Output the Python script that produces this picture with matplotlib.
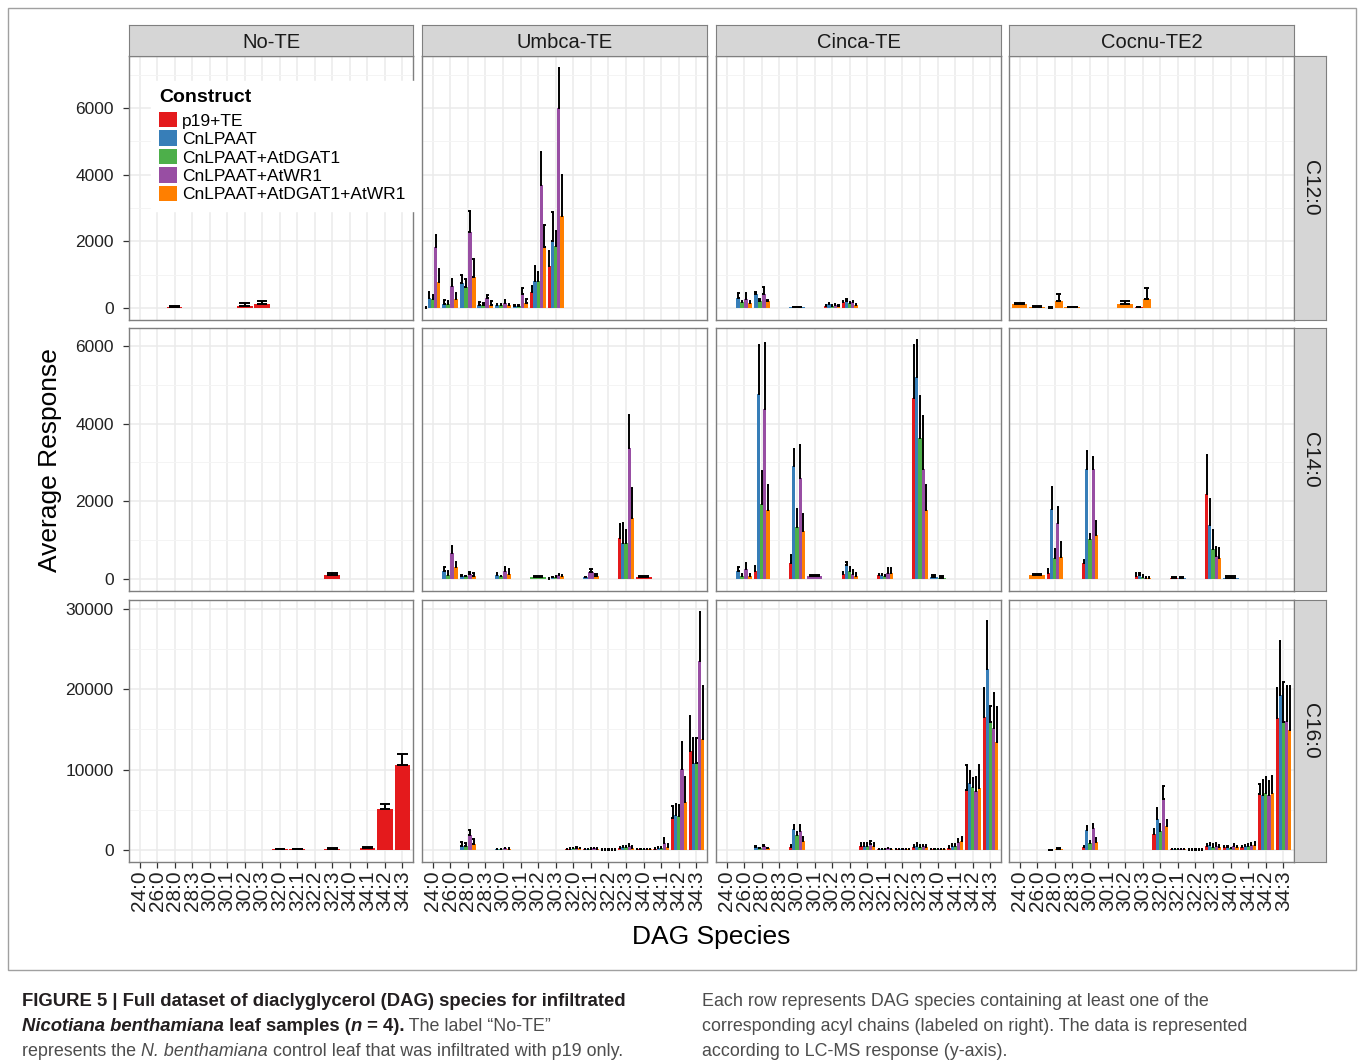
import numpy as np
import matplotlib
matplotlib.use('Agg')
import matplotlib.pyplot as plt
from matplotlib.patches import Patch, Rectangle

plt.rcParams['font.family'] = ['Liberation Sans', 'DejaVu Sans']

species = ['24:0', '26:0', '28:0', '28:3', '30:0', '30:1', '30:2', '30:3',
           '32:0', '32:1', '32:2', '32:3', '34:0', '34:1', '34:2', '34:3']
constructs = ['p19+TE', 'CnLPAAT', 'CnLPAAT+AtDGAT1', 'CnLPAAT+AtWR1',
              'CnLPAAT+AtDGAT1+AtWR1']
colors = ['#E41A1C', '#377EB8', '#4DAF4A', '#984EA3', '#FF7F00']
te_lines = ['No-TE', 'Umbca-TE', 'Cinca-TE', 'Cocnu-TE2']
chains = ['C12:0', 'C14:0', 'C16:0']
row_ticks = [[0, 2000, 4000, 6000], [0, 2000, 4000, 6000], [0, 10000, 20000, 30000]]

_ = None
# (mean, se) per construct, None = construct not measured
note_c12 = {
    '28:0': [(20, 30), _, _, _, _],
    '30:2': [(70, 70), _, _, _, _],
    '30:3': [(120, 100), _, _, _, _],
}
umbca_c12 = {
    '24:0': [(10, 20), (290, 180), (270, 120), (1820, 380), (790, 370)],
    '26:0': [_, (130, 120), (110, 90), (670, 210), (260, 180)],
    '28:0': [_, (750, 240), (630, 250), (2280, 620), (920, 540)],
    '28:3': [_, (100, 70), (100, 60), (290, 110), (100, 110)],
    '30:0': [_, (80, 40), (80, 30), (160, 90), (80, 40)],
    '30:1': [_, (70, 20), (60, 20), (430, 170), (160, 100)],
    '30:2': [(470, 200), (820, 440), (820, 250), (3690, 990), (1840, 650)],
    '30:3': [(1270, 440), (2010, 880), (1870, 440), (6010, 1190), (2760, 1230)],
}
cinca_c12 = {
    '26:0': [_, (300, 150), (170, 50), (260, 200), (140, 60)],
    '28:0': [_, (420, 60), (220, 50), (420, 220), (200, 50)],
    '30:0': [_, (25, 15), _, _, _],
    '30:2': [(70, 30), (120, 30), (70, 30), (90, 30), (60, 20)],
    '30:3': [(170, 50), (220, 50), (140, 40), (170, 50), (90, 30)],
}
cocnu_c12 = {
    '24:0': [_, _, _, _, (120, 30)],
    '26:0': [_, _, _, _, (40, 20)],
    '28:0': [(10, 20), _, _, _, (220, 200)],
    '28:3': [_, _, _, _, (20, 15)],
    '30:2': [_, _, _, _, (120, 100)],
    '30:3': [(20, 20), _, _, _, (270, 320)],
}
note_c14 = {
    '32:3': [(100, 50), _, _, _, _],
}
umbca_c14 = {
    '26:0': [_, (195, 110), (110, 100), (680, 180), (300, 150)],
    '28:0': [_, (70, 40), (70, 20), (130, 50), (90, 60)],
    '30:0': [_, (110, 40), (70, 20), (210, 90), (130, 120)],
    '30:2': [_, _, (50, 25), _, _],
    '30:3': [(5, 10), (40, 20), (50, 20), (100, 30), (70, 30)],
    '32:1': [_, (40, 15), _, (170, 90), (85, 55)],
    '32:3': [(1050, 360), (930, 510), (930, 320), (3370, 840), (1580, 750)],
    '34:0': [(50, 25), _, _, _, _],
}
cinca_c14 = {
    '26:0': [_, (205, 110), (75, 60), (255, 155), (70, 65)],
    '28:0': [(205, 120), (4770, 1250), (1920, 860), (4380, 1690), (1770, 650)],
    '30:0': [(420, 190), (2910, 440), (1330, 470), (2590, 870), (1240, 440)],
    '30:1': [_, _, _, (70, 30), _],
    '30:3': [(135, 45), (360, 90), (215, 85), (135, 110), (75, 75)],
    '32:1': [(100, 30), (100, 35), (85, 20), (160, 120), (160, 120)],
    '32:3': [(4660, 1370), (5190, 960), (3640, 1080), (2840, 1360), (1770, 650)],
    '34:0': [_, (50, 45), (35, 35), _, _],
}
cocnu_c14 = {
    '26:0': [_, _, _, _, (100, 30)],
    '28:0': [(150, 120), (1800, 570), (530, 250), (1450, 410), (560, 385)],
    '30:0': [(410, 70), (2830, 460), (1020, 130), (2830, 300), (1140, 350)],
    '30:3': [(70, 75), (95, 65), (50, 50), (35, 30), (20, 20)],
    '32:1': [(25, 20), (25, 20), _, _, _],
    '32:3': [(2200, 990), (1400, 650), (760, 490), (580, 250), (540, 250)],
    '34:0': [_, (25, 45), _, _, _],
}
note_c16 = {
    '32:0': [(80, 80), _, _, _, _],
    '32:1': [(80, 80), _, _, _, _],
    '32:3': [(120, 130), _, _, _, _],
    '34:1': [(250, 160), _, _, _, _],
    '34:2': [(5100, 650), _, _, _, _],
    '34:3': [(10550, 1450), _, _, _, _],
}
umbca_c16 = {
    '28:0': [_, (530, 450), (450, 370), (1890, 650), (780, 650)],
    '30:0': [_, (100, 60), (80, 50), (200, 100), (180, 80)],
    '32:0': [(100, 80), (150, 100), (200, 100), (250, 100), (200, 100)],
    '32:1': [(120, 60), (120, 60), (150, 80), (200, 80), (150, 80)],
    '32:2': [(60, 30), (60, 30), (60, 30), (60, 30), (60, 30)],
    '32:3': [(250, 150), (330, 150), (330, 130), (570, 200), (290, 250)],
    '34:0': [(80, 40), (80, 40), (80, 40), (100, 40), (80, 40)],
    '34:1': [(160, 120), (250, 160), (290, 120), (900, 580), (410, 290)],
    '34:2': [(3980, 1510), (4300, 1400), (4180, 1400), (10090, 3360), (6030, 3030)],
    '34:3': [(12340, 4350), (10870, 3110), (10870, 3030), (23530, 6070), (13780, 6640)],
}
cinca_c16 = {
    '28:0': [_, (330, 160), (200, 60), (490, 160), (200, 80)],
    '30:0': [(370, 280), (2620, 540), (1890, 410), (2420, 740), (1150, 450)],
    '32:0': [(570, 330), (570, 370), (490, 370), (740, 450), (490, 370)],
    '32:1': [(100, 80), (130, 60), (100, 80), (200, 80), (130, 60)],
    '32:2': [(80, 40), (80, 40), (80, 40), (80, 40), (80, 40)],
    '32:3': [(410, 200), (570, 290), (410, 280), (450, 160), (330, 250)],
    '34:0': [(120, 50), (100, 50), (100, 40), (130, 50), (100, 40)],
    '34:1': [(250, 290), (450, 250), (450, 290), (1025, 410), (1150, 490)],
    '34:2': [(7460, 3160), (8360, 1480), (7870, 1030), (7300, 1800), (7750, 2870)],
    '34:3': [(16600, 3530), (22510, 5940), (15870, 2010), (15130, 4430), (13490, 4300)],
}
cocnu_c16 = {
    '28:0': [(30, 30), _, _, _, (150, 120)],
    '30:0': [(330, 240), (2460, 490), (820, 370), (2710, 570), (985, 535)],
    '32:0': [(1970, 650), (3900, 1270), (2420, 780), (6360, 1640), (3030, 700)],
    '32:1': [(80, 60), (80, 60), (80, 60), (100, 60), (80, 60)],
    '32:2': [(60, 40), (60, 40), (60, 40), (60, 40), (60, 40)],
    '32:3': [(490, 290), (650, 210), (410, 290), (570, 290), (330, 285)],
    '34:0': [(330, 240), (410, 160), (200, 120), (570, 210), (330, 200)],
    '34:1': [(410, 160), (490, 200), (530, 200), (615, 325), (615, 410)],
    '34:2': [(7010, 1150), (6810, 1920), (7130, 1930), (6850, 1680), (7130, 2090)],
    '34:3': [(16440, 3650), (19270, 6720), (15870, 5080), (15990, 4350), (14880, 5460)],
}

panels = [[note_c12, umbca_c12, cinca_c12, cocnu_c12],
          [note_c14, umbca_c14, cinca_c14, cocnu_c14],
          [note_c16, umbca_c16, cinca_c16, cocnu_c16]]

W, H = 1358, 1062
fig = plt.figure(figsize=(W / 100, H / 100), dpi=100)

def box(x0, y0, x1, y1):
    return [x0 / W, 1 - y1 / H, (x1 - x0) / W, (y1 - y0) / H]

col_x = [(129, 413), (422, 707), (716, 1001), (1009, 1294)]
row_y = [(56, 320), (328, 591), (600, 862)]
border = '#7F7F7F'
strip_col = '#D6D6D6'

def draw_panel(ax, data):
    for sp, vals in data.items():
        x0 = species.index(sp)
        present = [i for i, v in enumerate(vals) if v is not None]
        n = len(present)
        w = 0.9 / n
        cw = 0.3 / n
        for k, i in enumerate(present):
            m, e = vals[i]
            xc = x0 - 0.45 + w * (k + 0.5)
            ax.bar(xc, m, width=w, color=colors[i], linewidth=0, zorder=2)
            ax.vlines(xc, m, m + e, color='black', lw=1.4, zorder=3)
            ax.hlines([m, m + e], xc - cw, xc + cw, color='black', lw=1.4, zorder=3)

for r in range(3):
    top = max(v[0] + v[1] for d in panels[r] for vals in d.values() for v in vals if v is not None)
    ticks = row_ticks[r]
    minor = [t + (ticks[1] - ticks[0]) / 2 for t in ticks]
    for c in range(4):
        ax = fig.add_axes(box(col_x[c][0], row_y[r][0], col_x[c][1], row_y[r][1]))
        draw_panel(ax, panels[r][c])
        ax.set_xticks(range(len(species)))
        ax.set_yticks(ticks)
        ax.set_yticks(minor, minor=True)
        ax.set_xlim(-0.6, len(species) - 0.4)
        ax.set_ylim(-0.05 * top, 1.05 * top)
        ax.grid(which='major', color='#EBEBEB', lw=1.1, zorder=0)
        ax.grid(which='minor', axis='y', color='#F4F4F4', lw=0.7, zorder=0)
        ax.set_axisbelow(True)
        for s in ax.spines.values():
            s.set_color(border)
            s.set_linewidth(1.0)
        ax.tick_params(which='minor', length=0)
        ax.tick_params(which='major', color='#333333', width=0.9, length=4,
                       labelsize=12.5, labelcolor='#222222')
        ax.tick_params(axis='y', pad=7)
        if c == 0:
            ax.set_yticklabels([str(t) for t in ticks])
        else:
            ax.tick_params(axis='y', length=0, labelleft=False)
        if r == 2:
            ax.set_xticklabels(species, rotation=90, fontsize=15)
            ax.tick_params(axis='x', pad=2)
        else:
            ax.tick_params(axis='x', length=0, labelbottom=False)
        # top strips
        if r == 0:
            sa = fig.add_axes(box(col_x[c][0], 25, col_x[c][1], 56))
            sa.set_facecolor(strip_col)
            sa.set_xticks([]); sa.set_yticks([])
            for s in sa.spines.values():
                s.set_color(border)
            sa.text(0.5, 0.45, te_lines[c], ha='center', va='center',
                    fontsize=14.5, color='#1A1A1A', transform=sa.transAxes)
    sa = fig.add_axes(box(1294, row_y[r][0], 1326, row_y[r][1]))
    sa.set_facecolor(strip_col)
    sa.set_xticks([]); sa.set_yticks([])
    for s in sa.spines.values():
        s.set_color(border)
    sa.text(0.5, 0.5, chains[r], ha='center', va='center', rotation=-90,
            fontsize=15, color='#1A1A1A', transform=sa.transAxes)

handles = [Patch(facecolor=col, edgecolor='none') for col in colors]
leg = fig.legend(handles, constructs, loc='upper left',
                 bbox_to_anchor=(142 / W, 1 - 72 / H), title='Construct',
                 fontsize=12.5, title_fontproperties={'weight': 'bold', 'size': 14},
                 frameon=True, fancybox=False, edgecolor='white', framealpha=1,
                 handlelength=1.0, handleheight=1.0, labelspacing=0.1,
                 handletextpad=0.3, borderpad=0.5, alignment='left')
leg._legend_box.sep = 4

fig.text(50 / W, 1 - 460 / H, 'Average Response', rotation=90, ha='center',
         va='center', fontsize=19)
fig.text(711 / W, 1 - 937 / H, 'DAG Species', ha='center', va='center', fontsize=19)

fig.patches.append(Rectangle((8 / W, 1 - 970 / H), 1348 / W, 962 / H,
                             transform=fig.transFigure, fill=False,
                             edgecolor='#A0A0A0', lw=1.0))

# caption
renderer = fig.canvas.get_renderer()

def rich_line(x, y, parts):
    for txt, weight, style, color in parts:
        size = 13.3 if weight == 'bold' else 12.9
        t = fig.text(x / W, 1 - y / H, txt, fontsize=size, fontweight=weight,
                     fontstyle=style, color=color, va='baseline')
        x += t.get_window_extent(renderer=renderer).width

dark = '#231F20'
grey = '#4D4D4D'
rich_line(22, 1006, [('FIGURE 5 | Full dataset of diaclyglycerol (DAG) species for infiltrated',
                      'bold', 'normal', dark)])
rich_line(22, 1031, [('Nicotiana benthamiana', 'bold', 'italic', dark),
                     (' leaf samples (', 'bold', 'normal', dark),
                     ('n', 'bold', 'italic', dark),
                     (' = 4).', 'bold', 'normal', dark),
                     (' The label \u201cNo-TE\u201d', 'normal', 'normal', grey)])
rich_line(22, 1056, [('represents the ', 'normal', 'normal', grey),
                     ('N. benthamiana', 'normal', 'italic', grey),
                     (' control leaf that was infiltrated with p19 only.', 'normal', 'normal', grey)])
rich_line(702, 1006, [('Each row represents DAG species containing at least one of the', 'normal', 'normal', grey)])
rich_line(702, 1031, [('corresponding acyl chains (labeled on right). The data is represented', 'normal', 'normal', grey)])
rich_line(702, 1056, [('according to LC-MS response (y-axis).', 'normal', 'normal', grey)])

fig.savefig('out.png', dpi=100)
